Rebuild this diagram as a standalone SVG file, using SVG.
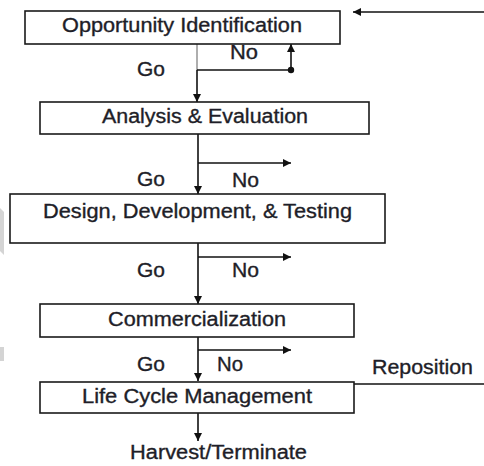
<svg xmlns="http://www.w3.org/2000/svg" width="484" height="466" viewBox="0 0 484 466">
  <style>
    .box { fill: #fff; stroke: #1a1a1a; stroke-width: 1.6; }
    .lbl { font-family: "Liberation Sans", Arial, sans-serif; font-size: 20px; fill: #1e1e28; stroke: #1e1e28; stroke-width: 0.35; }
    .wire { fill: none; stroke: #111; stroke-width: 1.6; }
    .wire.grey { stroke: #9a9a9a; }
  </style>
  <defs>
    <marker id="arrow" viewBox="0 0 10 10" refX="10" refY="5" markerWidth="10" markerHeight="8" markerUnits="userSpaceOnUse" orient="auto">
      <path d="M0,0 L10,5 L0,10 z" fill="#111"/>
    </marker>
  </defs>

  <rect width="484" height="466" fill="#fff"/>

  <!-- faint marks along the left margin -->
  <polygon points="0,208 4,212 4,255 0,251" fill="#d4d4d4"/>
  <rect x="0" y="347" width="4" height="14" fill="#d4d4d4"/>

  <g id="connectors">
    <!-- stage 1 -> stage 2 -->
    <line class="wire grey" x1="197" y1="44" x2="197" y2="70"/>
    <line class="wire" x1="197" y1="70" x2="197" y2="102" marker-end="url(#arrow)"/>
    <line class="wire" x1="197" y1="70" x2="291" y2="70"/>
    <line class="wire" x1="291" y1="70" x2="291" y2="44" marker-end="url(#arrow)"/>
    <circle cx="291" cy="70" r="3.2" fill="#111"/>
    <!-- return arrow into stage 1 -->
    <line class="wire" x1="484" y1="12" x2="353" y2="12" marker-end="url(#arrow)"/>

    <!-- stage 2 -> stage 3 -->
    <line class="wire" x1="198" y1="134" x2="198" y2="194" marker-end="url(#arrow)"/>
    <line class="wire" x1="198" y1="163" x2="291" y2="163" marker-end="url(#arrow)"/>

    <!-- stage 3 -> stage 4 -->
    <line class="wire" x1="198" y1="243" x2="198" y2="304" marker-end="url(#arrow)"/>
    <line class="wire" x1="198" y1="257" x2="291" y2="257" marker-end="url(#arrow)"/>

    <!-- stage 4 -> stage 5 -->
    <line class="wire" x1="198" y1="337" x2="198" y2="381" marker-end="url(#arrow)"/>
    <line class="wire" x1="198" y1="350" x2="291" y2="350" marker-end="url(#arrow)"/>

    <!-- reposition feedback -->
    <line class="wire" x1="354" y1="384" x2="484" y2="384"/>

    <!-- stage 5 -> exit -->
    <line class="wire" x1="198" y1="413" x2="198" y2="441" marker-end="url(#arrow)"/>

    <!-- decision labels -->
    <text class="lbl" x="137" y="76" textLength="28" lengthAdjust="spacingAndGlyphs">Go</text>
    <text class="lbl" x="230" y="59" textLength="28" lengthAdjust="spacingAndGlyphs">No</text>
    <text class="lbl" x="137" y="186" textLength="28" lengthAdjust="spacingAndGlyphs">Go</text>
    <text class="lbl" x="232" y="187" textLength="27" lengthAdjust="spacingAndGlyphs">No</text>
    <text class="lbl" x="137" y="277" textLength="28" lengthAdjust="spacingAndGlyphs">Go</text>
    <text class="lbl" x="232" y="277" textLength="27" lengthAdjust="spacingAndGlyphs">No</text>
    <text class="lbl" x="137" y="371" textLength="28" lengthAdjust="spacingAndGlyphs">Go</text>
    <text class="lbl" x="217" y="371" textLength="26" lengthAdjust="spacingAndGlyphs">No</text>
    <text class="lbl" x="372" y="374" textLength="101" lengthAdjust="spacingAndGlyphs">Reposition</text>
    <text class="lbl" x="130" y="459" textLength="177" lengthAdjust="spacingAndGlyphs">Harvest/Terminate</text>
  </g>

  <g id="opportunity-identification">
    <rect class="box" x="25" y="11" width="315" height="33"/>
    <text class="lbl" x="62" y="32" textLength="240" lengthAdjust="spacingAndGlyphs">Opportunity Identification</text>
  </g>

  <g id="analysis-evaluation">
    <rect class="box" x="40" y="102" width="329" height="32"/>
    <text class="lbl" x="102" y="123" textLength="206" lengthAdjust="spacingAndGlyphs">Analysis &amp; Evaluation</text>
  </g>

  <g id="design-development-testing">
    <rect class="box" x="10" y="194" width="375" height="49"/>
    <text class="lbl" x="43" y="218" textLength="309" lengthAdjust="spacingAndGlyphs">Design, Development, &amp; Testing</text>
  </g>

  <g id="commercialization">
    <rect class="box" x="40" y="304" width="314" height="33"/>
    <text class="lbl" x="108" y="326" textLength="178" lengthAdjust="spacingAndGlyphs">Commercialization</text>
  </g>

  <g id="life-cycle-management">
    <rect class="box" x="40" y="382" width="314" height="31"/>
    <text class="lbl" x="82" y="403" textLength="230" lengthAdjust="spacingAndGlyphs">Life Cycle Management</text>
  </g>
</svg>
